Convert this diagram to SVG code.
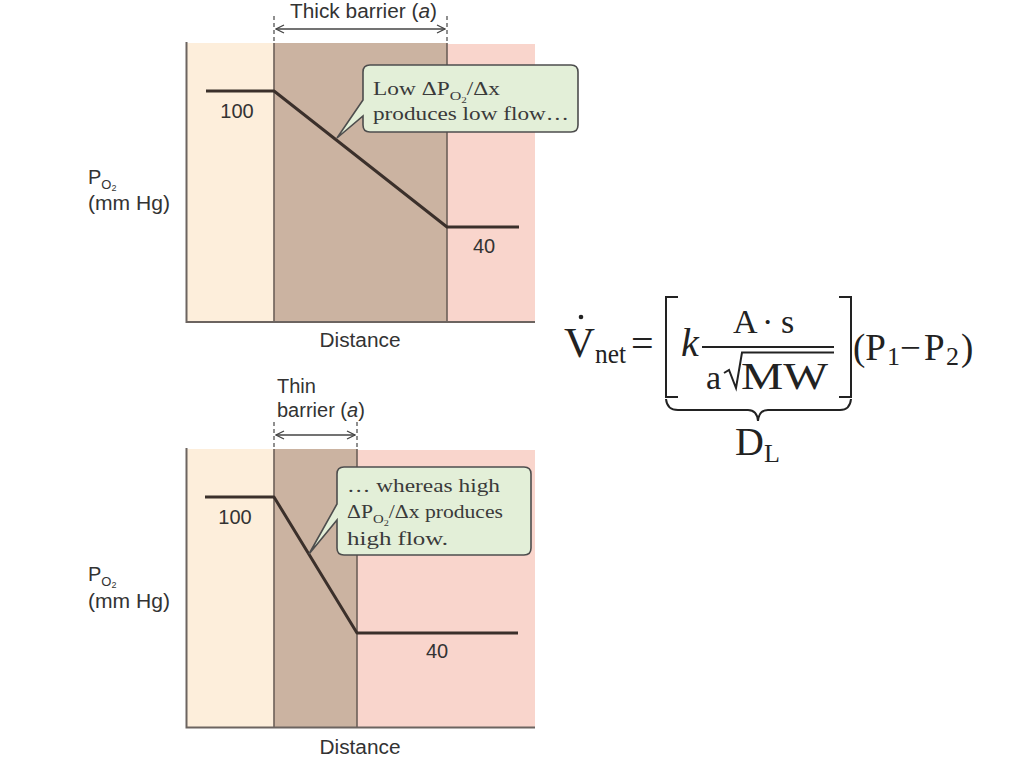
<svg xmlns="http://www.w3.org/2000/svg" width="1024" height="767" viewBox="0 0 1024 767">
<style>
.sans{font-family:"Liberation Sans",Arial,sans-serif;font-size:20px;fill:#333}
.cal{font-family:"Liberation Serif","Times New Roman",serif;font-size:19px;fill:#3a3a3a}
.eq{font-family:"Liberation Serif","Times New Roman",serif;fill:#222}
.axis{stroke:#6c6460;stroke-width:2;fill:none}
.edge{stroke:#6c5f58;stroke-width:1.6;fill:none}
.dash{stroke:#555;stroke-width:1.3;stroke-dasharray:4 3;fill:none}
.arr{stroke:#444;stroke-width:1.3;fill:none}
.curve{stroke:#3b302b;stroke-width:3;fill:none;stroke-linejoin:round}
.callout{fill:#e3efd8;stroke:#4d4d4d;stroke-width:1.6}
.mathline{stroke:#222;stroke-width:2;fill:none}
</style>
<defs>
<marker id="chev" viewBox="0 0 10 10" refX="9" refY="5" markerWidth="10" markerHeight="10" markerUnits="userSpaceOnUse" orient="auto-start-reverse">
<path d="M1 1 L9 5 L1 9" fill="none" stroke="#444" stroke-width="1.3"/>
</marker>
</defs>
<rect width="1024" height="767" fill="#ffffff"/>

<g id="top-chart">
<rect x="187" y="43" width="87" height="279" fill="#fdeedb"/>
<rect x="274" y="43" width="173" height="279" fill="#cbb3a1"/>
<rect x="447" y="44" width="88" height="278" fill="#f9d5cc"/>
<line class="edge" x1="274" y1="43" x2="274" y2="322"/>
<line class="edge" x1="447" y1="43" x2="447" y2="322"/>
<path class="axis" d="M186.5 42 V322 H535"/>
<line class="dash" x1="274" y1="16" x2="274" y2="43"/>
<line class="dash" x1="447" y1="16" x2="447" y2="43"/>
<line class="arr" x1="276" y1="29" x2="445" y2="29" marker-start="url(#chev)" marker-end="url(#chev)"/>
<text class="sans" x="290" y="18" textLength="147" lengthAdjust="spacingAndGlyphs">Thick barrier (<tspan font-style="italic">a</tspan>)</text>
<path class="curve" d="M206 91 H274 L447 227 H519"/>
<text class="sans" x="237" y="118" text-anchor="middle">100</text>
<text class="sans" x="484" y="253" text-anchor="middle">40</text>
<text class="sans" x="88" y="184">P<tspan font-size="13" dy="5">O</tspan><tspan font-size="9" dy="2">2</tspan></text>
<text class="sans" x="88" y="210" textLength="82" lengthAdjust="spacingAndGlyphs">(mm Hg)</text>
<text class="sans" x="360" y="347" text-anchor="middle" textLength="81" lengthAdjust="spacingAndGlyphs">Distance</text>
</g>

<g id="top-callout">
<path class="callout" d="M370 65 H571 Q578 65 578 72 V125 Q578 132 571 132 H370 Q363 132 363 125 V116 L337 138 L363 100 V72 Q363 65 370 65 Z"/>
<text class="cal" x="373" y="95" textLength="127" lengthAdjust="spacingAndGlyphs">Low ΔP<tspan font-size="13" dy="5">O</tspan><tspan font-size="9" dy="3">2</tspan><tspan dy="-8">/Δx</tspan></text>
<text class="cal" x="373" y="120" textLength="196" lengthAdjust="spacingAndGlyphs">produces low flow…</text>
</g>

<g id="bottom-chart">
<rect x="187" y="449" width="87" height="278" fill="#fdeedb"/>
<rect x="274" y="449" width="83" height="278" fill="#cbb3a1"/>
<rect x="357" y="450" width="178" height="277" fill="#f9d5cc"/>
<line class="edge" x1="274" y1="449" x2="274" y2="727"/>
<line class="edge" x1="357" y1="449" x2="357" y2="727"/>
<path class="axis" d="M186.5 448 V727.5 H535"/>
<line class="dash" x1="274" y1="422" x2="274" y2="449"/>
<line class="dash" x1="357" y1="422" x2="357" y2="449"/>
<line class="arr" x1="276" y1="435" x2="355" y2="435" marker-start="url(#chev)" marker-end="url(#chev)"/>
<text class="sans" x="277" y="393">Thin</text>
<text class="sans" x="277" y="417">barrier (<tspan font-style="italic">a</tspan>)</text>
<path class="curve" d="M205 497 H274 L357 633 H518"/>
<text class="sans" x="235" y="524" text-anchor="middle">100</text>
<text class="sans" x="437" y="658" text-anchor="middle">40</text>
<text class="sans" x="88" y="581">P<tspan font-size="13" dy="5">O</tspan><tspan font-size="9" dy="2">2</tspan></text>
<text class="sans" x="88" y="608" textLength="82" lengthAdjust="spacingAndGlyphs">(mm Hg)</text>
<text class="sans" x="360" y="754" text-anchor="middle" textLength="81" lengthAdjust="spacingAndGlyphs">Distance</text>
</g>

<g id="bottom-callout">
<path class="callout" d="M344 467 H524 Q531 467 531 474 V548 Q531 555 524 555 H344 Q337 555 337 548 V520 L309 554 L337 504 V474 Q337 467 344 467 Z"/>
<text class="cal" x="347" y="492" textLength="153" lengthAdjust="spacingAndGlyphs">… whereas high</text>
<text class="cal" x="347" y="518" textLength="156" lengthAdjust="spacingAndGlyphs">ΔP<tspan font-size="13" dy="5">O</tspan><tspan font-size="9" dy="3">2</tspan><tspan dy="-8">/Δx produces</tspan></text>
<text class="cal" x="347" y="545" textLength="101" lengthAdjust="spacingAndGlyphs">high flow.</text>
</g>

<g id="equation">
<text class="eq" x="564" y="357" font-size="42" textLength="31" lengthAdjust="spacingAndGlyphs">V</text>
<circle cx="581" cy="317" r="2.3" fill="#222"/>
<text class="eq" x="595" y="363" font-size="28" textLength="31" lengthAdjust="spacingAndGlyphs">net</text>
<text class="eq" x="631" y="357" font-size="40">=</text>
<path class="mathline" d="M678 297 H666 V397 H678" stroke-width="2.4"/>
<text class="eq" x="681" y="356" font-size="40" font-style="italic">k</text>
<line class="mathline" x1="702" y1="347" x2="834" y2="347"/>
<text class="eq" x="733" y="333" font-size="34">A</text>
<text class="eq" x="762" y="333" font-size="34">·</text>
<text class="eq" x="781" y="333" font-size="34">s</text>
<text class="eq" x="706" y="389" font-size="34">a</text>
<path class="mathline" d="M724 373 L729 370 L736 388 L742 352.5 H834" stroke-width="1.8"/>
<text class="eq" x="741" y="389" font-size="37" textLength="87" lengthAdjust="spacingAndGlyphs">MW</text>
<path class="mathline" d="M839 297 H851 V397 H839" stroke-width="2.4"/>
<text class="eq" x="853" y="360" font-size="37">(P</text>
<text class="eq" x="887" y="365" font-size="26">1</text>
<text class="eq" x="900" y="360" font-size="37">−</text>
<text class="eq" x="924" y="360" font-size="37">P</text>
<text class="eq" x="946" y="365" font-size="26">2</text>
<text class="eq" x="961" y="360" font-size="37">)</text>
<path class="mathline" d="M666 399 Q667 410 678 410 H748 Q757 410 758 421 Q759 410 768 410 H840 Q850 410 851 399" stroke-width="1.8"/>
<text class="eq" x="735" y="455" font-size="40">D</text>
<text class="eq" x="764" y="462" font-size="26">L</text>
</g>
</svg>
